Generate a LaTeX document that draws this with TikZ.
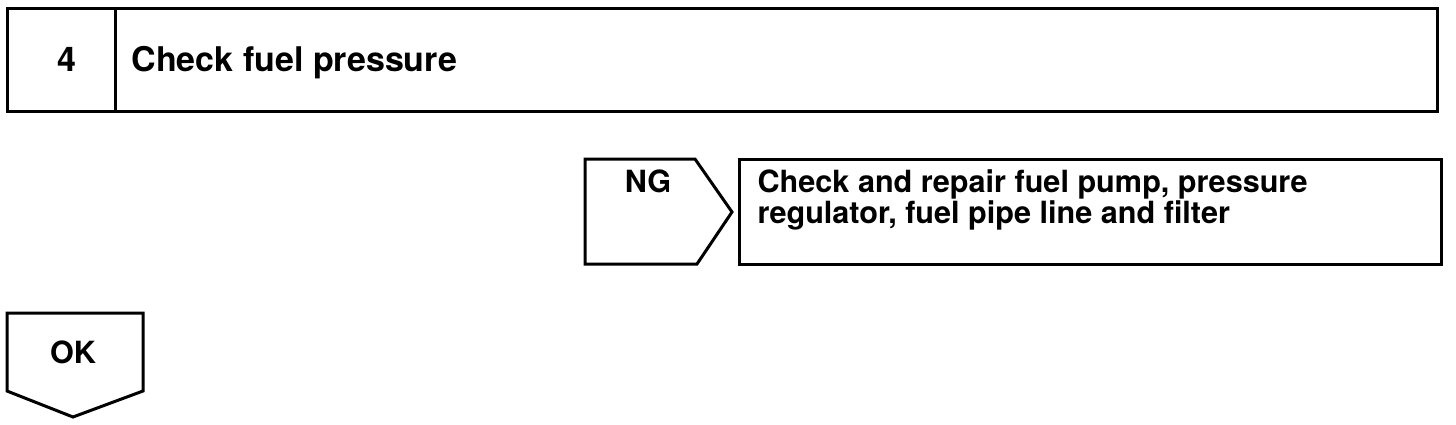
\documentclass[tikz,border=0pt]{standalone}
\usepackage{fontspec}
\setmainfont{TeX Gyre Heros}
\usetikzlibrary{positioning}

\begin{document}
\begin{tikzpicture}[x=0.5pt,y=-0.5pt,line width=1.5pt,line join=miter,font=\bfseries]
\tikzstyle{big}=[inner sep=0pt,font=\fontsize{17}{17}\selectfont\bfseries]
\tikzstyle{txt}=[inner sep=0pt,align=left,font=\fontsize{15.3}{13}\selectfont\bfseries]
\useasboundingbox (0,0) rectangle (1456,424);
% step header
\draw (7,8) rectangle (1437,111);
\draw (115,8) -- (115,111);
\node[big,anchor=base] (num) at (67,71) {4};
\node[big,anchor=base west] (title) at (130,71) {Check fuel pressure};
% NG branch
\draw (585,159) -- (695,159) -- (732,212) -- (697,264) -- (585,264) -- cycle;
\node[txt,anchor=base] (ng) at (648,192) {NG};
\draw (739,159) rectangle (1441,264);
\node[txt,anchor=north west] (repair) at (756,168) {Check and repair fuel pump, pressure\\regulator, fuel pipe line and filter};
% OK branch
\draw (7,313) -- (143,313) -- (143,391) -- (73,417) -- (7,391) -- cycle;
\node[txt,anchor=base] (ok) at (73,363) {OK};
\end{tikzpicture}
\end{document}
